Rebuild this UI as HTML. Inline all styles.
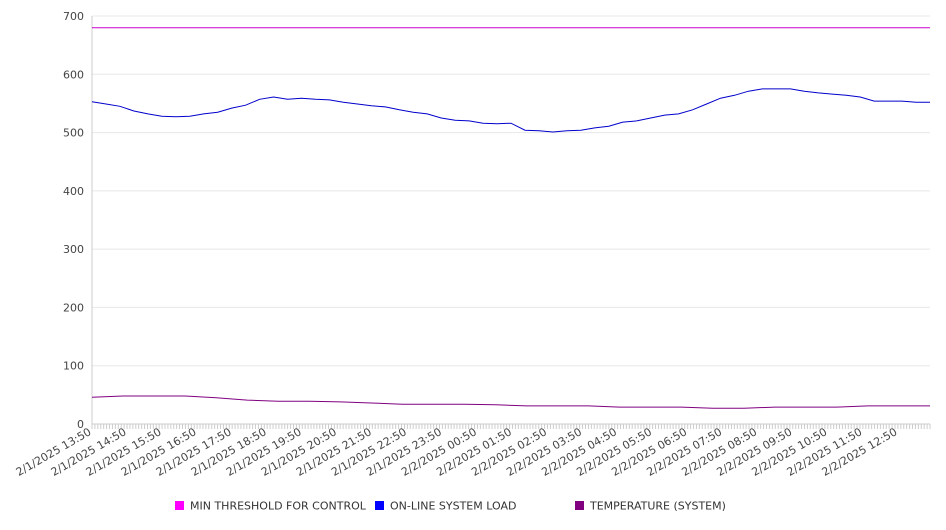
<!DOCTYPE html>
<html><head><meta charset="utf-8"><style>
body{margin:0;background:#fff;font-family:"DejaVu Sans","Liberation Sans",sans-serif}
svg text{font-family:"DejaVu Sans","Liberation Sans",sans-serif}
</style></head><body>
<svg id="chart" width="946" height="526" xmlns="http://www.w3.org/2000/svg"></svg>
<script>
const yTicks=[0,100,200,300,400,500,600,700];
const xLabels=["2/1/2025 13:50","2/1/2025 14:50","2/1/2025 15:50","2/1/2025 16:50","2/1/2025 17:50","2/1/2025 18:50","2/1/2025 19:50","2/1/2025 20:50","2/1/2025 21:50","2/1/2025 22:50","2/1/2025 23:50","2/2/2025 00:50","2/2/2025 01:50","2/2/2025 02:50","2/2/2025 03:50","2/2/2025 04:50","2/2/2025 05:50","2/2/2025 06:50","2/2/2025 07:50","2/2/2025 08:50","2/2/2025 09:50","2/2/2025 10:50","2/2/2025 11:50","2/2/2025 12:50"];
const thresholdValues=[680,680];
const loadValues=[553,549,545,537,532,528,527,528,532,535,542,547,557,561,557,559,557,556,552,549,546,544,539,535,532,525,521,520,516,515,516,504,503,501,503,504,508,511,518,520,525,530,532,539,549,559,564,571,575,575,575,571,568,566,564,561,554,554,554,552,552];
const tempValues=[46,48,48,48,45,41,39,39,38,36,34,34,34,33,31,31,31,29,29,29,27,27,29,29,29,31,31,31];
const totalMin=1435;
const L=92,T=16,B=424;
const pxPerMin=35.04/60;
const xs=m=>L+m*pxPerMin;
const ys=v=>B-(v/700)*(B-T);
const R=xs(totalMin);
const svg=document.getElementById('chart');
const NS='http://www.w3.org/2000/svg';
function mk(tag,attrs,parent){const e=document.createElementNS(NS,tag);for(const k in attrs)e.setAttribute(k,attrs[k]);(parent||svg).appendChild(e);return e;}
// grid & y ticks
yTicks.forEach(v=>{
  const g=mk('line',{x1:L,x2:R,y1:ys(v),y2:ys(v),stroke:v===0?'#ccc':'#e8e8e8','stroke-width':1});
  
  
  const t=mk('text',{x:L-8,y:ys(v)+4,'text-anchor':'end','font-size':11,fill:'#444'});
  t.textContent=v;
  
  
});
const ax=mk('line',{x1:L,x2:L,y1:T,y2:B,stroke:'#ccc'});


// minor ticks every 5 min
for(let m=0;m<=totalMin;m+=5){
  const tk=mk('line',{x1:xs(m),x2:xs(m),y1:B,y2:B+5,stroke:'#ccc'});
  
  
}
xLabels.forEach((s,i)=>{
  const x=xs(i*60),y=B+10;
  const t=mk('text',{x:x,y:y,'text-anchor':'end','font-size':11,fill:'#444',transform:`rotate(-30 ${x} ${y})`});
  t.textContent=s;
  
  
});
function series(vals,color,name){
  const step=totalMin/(vals.length-1);
  const d=vals.map((v,i)=>(i?'L':'M')+xs(i*step).toFixed(1)+','+ys(v).toFixed(1)).join('');
  const p=mk('path',{d:d,fill:'none',stroke:color,'stroke-width':1});
  
  
}
series(tempValues,'#800080','temperature-line');
series(loadValues,'#0000cc','system-load-line');
series(thresholdValues,'#cc00cc','threshold-line');
const legend=[["MIN THRESHOLD FOR CONTROL","#ff00ff",175],["ON-LINE SYSTEM LOAD","#0000ff",375],["TEMPERATURE (SYSTEM)","#800080",575]];
legend.forEach(([lab,c,x])=>{
  const g=mk('g',{});
  
  
  mk('rect',{x:x,y:501,width:9,height:9,fill:c},g);
  const t=mk('text',{x:x+15,y:509.5,'font-size':11,fill:'#333'},g);
  t.textContent=lab;
});
</script>
</body></html>
